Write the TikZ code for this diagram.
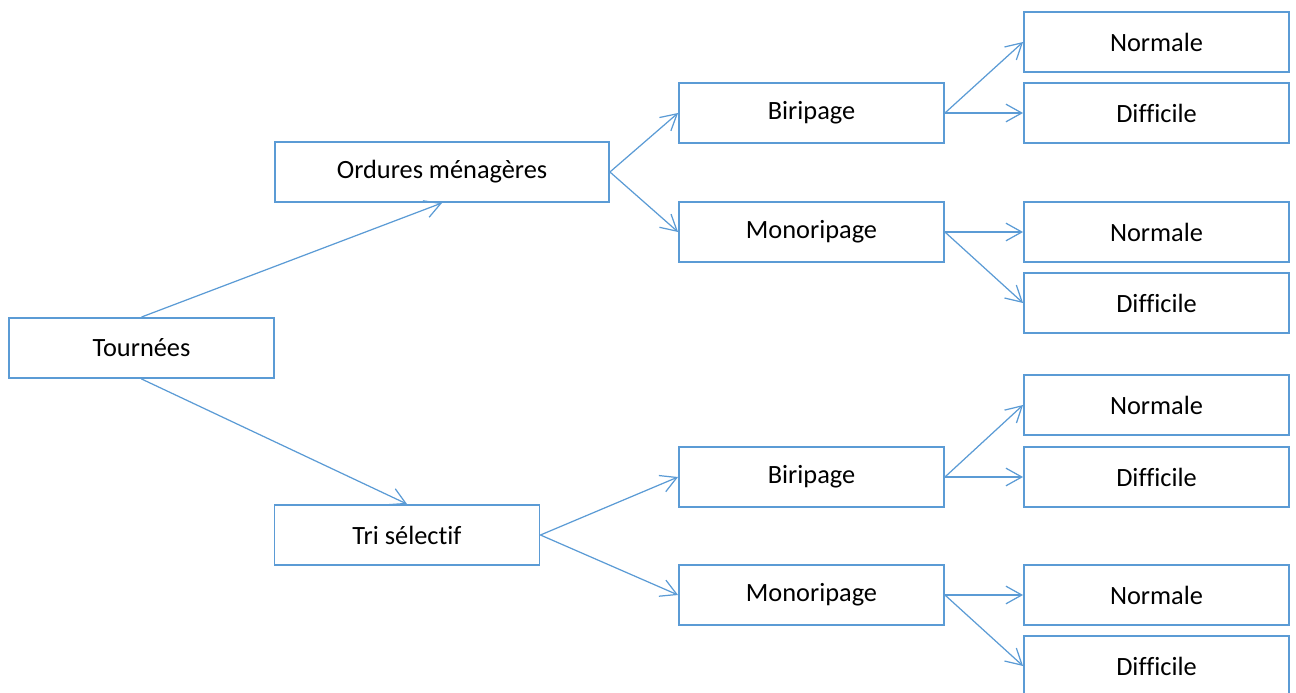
\documentclass[tikz,border=0pt]{standalone}
\usepackage{fontspec}
\setmainfont{Carlito}[Ligatures=NoCommon]
\usetikzlibrary{arrows.meta}
\definecolor{boxblue}{HTML}{5B9BD5}

\begin{document}
\begin{tikzpicture}[x=0.02cm,y=-0.02cm,
	box/.style={draw=boxblue, line width=1.1pt, minimum width=5.3cm, minimum height=1.2cm, inner sep=0pt, font=\fontsize{15}{18}\selectfont},
	link/.style={draw=boxblue, line width=0.7pt, -{Straight Barb[length=9pt,width=10pt]}}]
	\useasboundingbox (0,0) rectangle (1296,693);
	% first two levels
	\node[box] (tour) at (141.5,348) {Tournées};
	\node[box, minimum width=6.68cm] (om) at (442,172) {Ordures ménagères};
	\node[box] (ts) at (407,535) {Tri sélectif};
	% third level
	\node[box] (bi1) at (811.5,113) {Biripage};
	\node[box] (mono1) at (811.5,232) {Monoripage};
	\node[box] (bi2) at (811.5,477) {Biripage};
	\node[box] (mono2) at (811.5,595) {Monoripage};
	% last level
	\node[box] (n1) at (1156.5,42) {Normale};
	\node[box] (d1) at (1156.5,113) {Difficile};
	\node[box] (n2) at (1156.5,232) {Normale};
	\node[box] (d2) at (1156.5,303) {Difficile};
	\node[box] (n3) at (1156.5,405) {Normale};
	\node[box] (d3) at (1156.5,477) {Difficile};
	\node[box] (n4) at (1156.5,595) {Normale};
	\node[box] (d4) at (1156.5,666) {Difficile};
	% arrows
	\draw[link] (tour.north) -- (om.south);
	\draw[link] (tour.south) -- (ts.north);
	\draw[link] (om.east) -- (bi1.west);
	\draw[link] (om.east) -- (mono1.west);
	\draw[link] (ts.east) -- (bi2.west);
	\draw[link] (ts.east) -- (mono2.west);
	\foreach \a/\b/\c in {bi1/n1/d1, mono1/n2/d2, bi2/n3/d3, mono2/n4/d4} {
		\draw[link] (\a.east) -- (\b.west);
		\draw[link] (\a.east) -- (\c.west);
	}
\end{tikzpicture}
\end{document}
